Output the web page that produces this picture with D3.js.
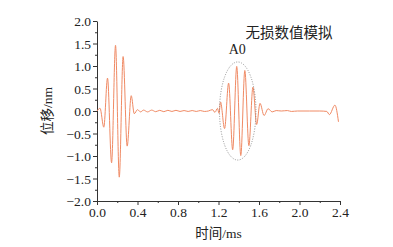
<!DOCTYPE html>
<html>
<head>
<meta charset="utf-8">
<script src="https://cdn.jsdelivr.net/npm/d3@7"></script>
<style>
  body { margin: 0; background: #fff; }
  text { font-family: "Liberation Serif", "Noto Sans CJK SC", serif; fill: #222; }
  .cjk { font-family: "Liberation Serif", "Noto Sans CJK SC", sans-serif; }
</style>
</head>
<body>
<div id="chart"></div>
<script>
// time (ms) and displacement (nm)
const timeMs = [
  0.00, 0.03, 0.067, 0.104, 0.144, 0.183, 0.220, 0.258, 0.298, 0.338, 0.368,
  0.40, 0.43, 0.46, 0.50, 0.54, 0.58, 0.62, 0.66, 0.70, 0.74, 0.78, 0.82, 0.86,
  0.90, 0.94, 0.98, 1.02, 1.06, 1.10, 1.14, 1.165, 1.19, 1.205,
  1.22, 1.26, 1.30, 1.34, 1.38, 1.42, 1.46, 1.50, 1.54, 1.577, 1.61, 1.65, 1.69,
  1.73, 1.77, 1.82, 1.88, 1.92, 1.98, 2.10, 2.20, 2.27, 2.295, 2.35, 2.385
];
const dispNm = [
  0.00, 0.06, -0.36, 0.73, -1.15, 1.46, -1.47, 1.21, -0.78, 0.34, -0.06,
  0.03, -0.02, 0.02, -0.02, 0.02, -0.015, 0.015, -0.015, 0.015, -0.01, 0.015, -0.01, 0.01,
  -0.01, 0.01, -0.01, 0.01, -0.01, 0.00, 0.03, -0.03, 0.06, -0.05,
  0.20, -0.39, 0.62, -0.86, 0.99, -0.99, 0.90, -0.77, 0.53, -0.30, 0.17, -0.10, 0.05,
  -0.02, 0.01, 0.00, 0.01, -0.01, 0.00, 0.00, 0.00, -0.01, -0.08, 0.13, -0.24
];

const xTicks = [0, 0.4, 0.8, 1.2, 1.6, 2.0, 2.4];
const yTicks = [-2.0, -1.5, -1.0, -0.5, 0.0, 0.5, 1.0, 1.5, 2.0];

const width = 393, height = 247;
const margin = { top: 21, right: 53, bottom: 46, left: 97 };

const svg = d3.select("#chart").append("svg")
  .attr("width", width)
  .attr("height", height);

const x = d3.scaleLinear().domain([0, 2.4]).range([margin.left, width - margin.right]);
const y = d3.scaleLinear().domain([-2, 2]).range([height - margin.bottom, margin.top]);

// minor ticks
svg.append("g")
  .attr("transform", `translate(0,${height - margin.bottom})`)
  .call(d3.axisBottom(x).tickValues(d3.range(0.2, 2.4, 0.4)).tickSize(2).tickFormat(""))
  .call(g => g.select(".domain").remove());
svg.append("g")
  .attr("transform", `translate(${margin.left},0)`)
  .call(d3.axisLeft(y).tickValues(d3.range(-1.75, 2, 0.5)).tickSize(2).tickFormat(""))
  .call(g => g.select(".domain").remove());

// major axes
svg.append("g")
  .attr("transform", `translate(0,${height - margin.bottom})`)
  .call(d3.axisBottom(x).tickValues(xTicks).tickSize(4).tickPadding(2).tickSizeOuter(0)
    .tickFormat(d3.format(".1f")))
  .call(g => g.selectAll("text").style("font-size", "13.5px"));

svg.append("g")
  .attr("transform", `translate(${margin.left},0)`)
  .call(d3.axisLeft(y).tickValues(yTicks).tickSize(4).tickPadding(2).tickSizeOuter(0)
    .tickFormat(d => d3.format(".1f")(d).replace("-", "\u2212")))
  .call(g => g.selectAll("text").style("font-size", "13.5px").attr("dy", "0.36em"));

svg.selectAll(".domain, .tick line").attr("stroke", "#333");

// signal
const pts = timeMs.map((t, i) => [t, dispNm[i]]);
svg.append("path")
  .datum(pts)
  .attr("fill", "none")
  .attr("stroke", "#f08a64")
  .attr("stroke-width", 1)
  .attr("d", d3.line().x(d => x(d[0])).y(d => y(d[1])).curve(d3.curveMonotoneX));

// dotted ellipse around A0 packet
svg.append("ellipse")
  .attr("cx", x(1.39))
  .attr("cy", y(0.0))
  .attr("rx", x(1.39 + 0.18) - x(1.39))
  .attr("ry", y(-1.09) - y(0))
  .attr("fill", "none")
  .attr("stroke", "#777")
  .attr("stroke-width", 0.8)
  .attr("stroke-dasharray", "1,1.5");

svg.append("text")
  .attr("x", x(1.385))
  .attr("y", 54)
  .attr("text-anchor", "middle")
  .style("font-size", "14px")
  .text("A0");

svg.append("text")
  .attr("class", "cjk")
  .attr("x", 289)
  .attr("y", 38)
  .attr("text-anchor", "middle")
  .style("font-size", "14.5px")
  .text("无损数值模拟");

// axis titles
svg.append("text")
  .attr("class", "cjk")
  .attr("x", (margin.left + width - margin.right) / 2)
  .attr("y", 238)
  .attr("text-anchor", "middle")
  .style("font-size", "13.5px")
  .text("时间/ms");

svg.append("text")
  .attr("class", "cjk")
  .attr("transform", `translate(52,${y(0)}) rotate(-90)`)
  .attr("text-anchor", "middle")
  .style("font-size", "13.5px")
  .text("位移/nm");
</script>
</body>
</html>
